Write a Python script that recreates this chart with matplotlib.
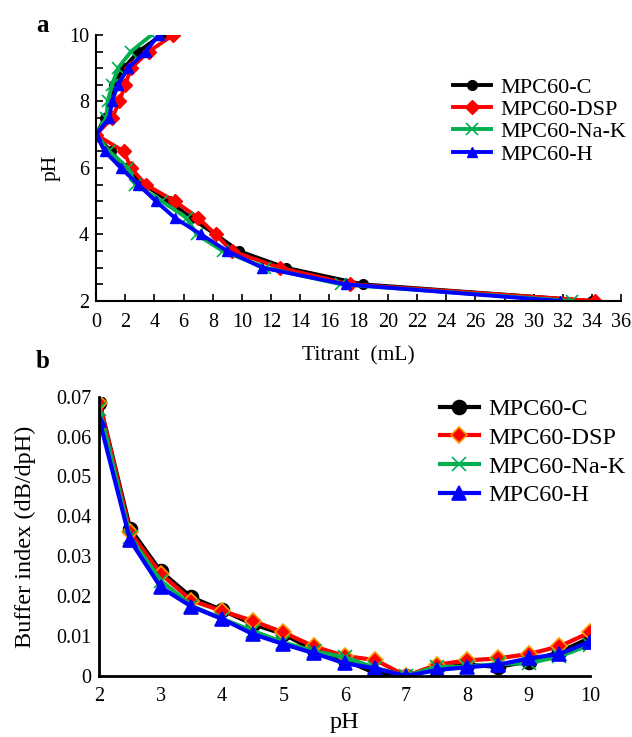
import matplotlib.pyplot as plt

plt.rcParams['font.family'] = 'Liberation Serif'

names = ['MPC60-C', 'MPC60-DSP', 'MPC60-Na-K', 'MPC60-H']
colors = ['black', '#ff0000', '#00b050', '#0000ff']
markers = ['o', 'D', 'x', '^']

# titration curves: pH from 10 down to 2 (base branch then acid branch)
ph_titr = [10, 9.5, 9, 8.5, 8, 7.5, 7, 6.5, 6, 5.5, 5, 4.5, 4, 3.5, 3, 2.5, 2]
titrant_c = [4.5, 2.9, 1.9, 1.2, 1.0, 0.6, 0, 1.0, 2.0, 3.3, 5.0, 6.5, 8.2, 9.8, 13.0, 18.3, 34.0]
titrant_dsp = [5.3, 3.6, 2.4, 2.0, 1.6, 1.1, 0, 1.9, 2.4, 3.4, 5.4, 7.0, 8.2, 9.3, 12.6, 17.4, 34.2]
titrant_nak = [3.8, 2.4, 1.5, 1.1, 0.8, 0.7, 0, 0.9, 2.2, 2.7, 4.5, 6.2, 6.9, 8.7, 11.6, 16.8, 32.6]
titrant_h = [4.3, 3.4, 2.2, 1.5, 1.1, 0.9, 0, 0.6, 1.7, 2.9, 4.1, 5.4, 7.2, 9.0, 11.4, 17.1, 31.8]

# buffer index vs pH
ph_buf = [2, 2.5, 3, 3.5, 4, 4.5, 5, 5.5, 6, 6.5, 7, 7.5, 8, 8.5, 9, 9.5, 10]
buf_c = [0.0685, 0.0369, 0.0262, 0.0197, 0.0165, 0.0130, 0.0105, 0.0065, 0.0040, 0.0007, 0.0,
         0.0020, 0.0028, 0.0023, 0.0036, 0.0060, 0.0095]
buf_dsp = [0.0685, 0.0360, 0.0256, 0.0189, 0.0163, 0.0138, 0.0109, 0.0074, 0.0050, 0.0040, 0.0,
           0.0028, 0.0039, 0.0044, 0.0055, 0.0074, 0.0109]
buf_nak = [0.0670, 0.0348, 0.0239, 0.0176, 0.0143, 0.0113, 0.0084, 0.0062, 0.0047, 0.0020, 0.0,
           0.0023, 0.0023, 0.0030, 0.0032, 0.0049, 0.0078]
buf_h = [0.0641, 0.0340, 0.0222, 0.0174, 0.0143, 0.0105, 0.0080, 0.0057, 0.0032, 0.0019, 0.0,
         0.0015, 0.0022, 0.0028, 0.0044, 0.0055, 0.0086]

titrant = [titrant_c, titrant_dsp, titrant_nak, titrant_h]
buffer = [buf_c, buf_dsp, buf_nak, buf_h]

W, H = 632, 737
fig = plt.figure(figsize=(W / 100, H / 100), dpi=100)

# --- panel a ---
ax1 = fig.add_axes([0.152, 0.5916, 0.831, 0.361])
for i in range(4):
    is_x = markers[i] == 'x'
    ax1.plot(titrant[i], ph_titr, color=colors[i], marker=markers[i], lw=2.8,
             ms=9 if is_x else 7, mec=colors[i], mew=1.2 if is_x else 1,
             label=names[i])
ax1.set_xlim(0, 36)
ax1.set_ylim(2, 10)
ax1.set_xticks(range(0, 37, 2))
ax1.set_yticks(range(2, 11, 2))
ax1.set_yticks([2 + 0.5 * k for k in range(17)], minor=True)
ax1.tick_params(direction='in', labelsize=14.5, length=5, width=1.2, pad=5)
ax1.tick_params(axis='x', pad=9)
ax1.tick_params(which='minor', direction='in', length=5, width=1.2)
for s in ['top', 'right']:
    ax1.spines[s].set_visible(False)
for s in ['left', 'bottom']:
    ax1.spines[s].set_linewidth(1.5)
ax1.set_xlabel('Titrant  (mL)', fontsize=15.5, labelpad=10)
ax1.set_ylabel('pH', fontsize=15.5, labelpad=6)
ax1.legend(loc='upper left', bbox_to_anchor=(453 / W, 1 - 77 / H), bbox_transform=fig.transFigure,
           frameon=False, fontsize=16, handlelength=1.7, handletextpad=0.45,
           labelspacing=0.08, borderpad=0, borderaxespad=0)
fig.text(36 / W, 1 - 25 / H, 'a', fontsize=18, fontweight='bold', ha='left', va='center')

# --- panel b ---
ax2 = fig.add_axes([0.1574, 0.0828, 0.776, 0.379])
for i in range(4):
    mec = '#ff9900' if i == 1 else colors[i]
    ax2.plot(ph_buf, buffer[i], color=colors[i], marker=markers[i], lw=3,
             ms=8 if markers[i] == 'D' else 10, mec=mec, mew=1.2,
             label=names[i])
ax2.set_xlim(2, 10)
ax2.set_ylim(0, 0.07)
ax2.set_xticks(range(2, 11))
ax2.set_yticks([0, 0.01, 0.02, 0.03, 0.04, 0.05, 0.06, 0.07])
ax2.set_yticklabels(['0', '0.01', '0.02', '0.03', '0.04', '0.05', '0.06', '0.07'])
ax2.tick_params(length=0, labelsize=14.5, pad=6)
ax2.tick_params(axis='x', pad=8)
for s in ['top', 'right']:
    ax2.spines[s].set_visible(False)
for s in ['left', 'bottom']:
    ax2.spines[s].set_linewidth(2)
ax2.set_xlabel('pH', fontsize=17.5, labelpad=4)
ax2.set_ylabel('Buffer index (dB/dpH)', fontsize=17.5, labelpad=14)
ax2.legend(loc='upper left', bbox_to_anchor=(440 / W, 1 - 398 / H), bbox_transform=fig.transFigure,
           frameon=False, fontsize=17.5, handlelength=1.6, handletextpad=0.4,
           labelspacing=0.28, borderpad=0, borderaxespad=0)
fig.text(36 / W, 1 - 362 / H, 'b', fontsize=18, fontweight='bold', ha='left', va='center')

plt.savefig('out.png', dpi=100)
